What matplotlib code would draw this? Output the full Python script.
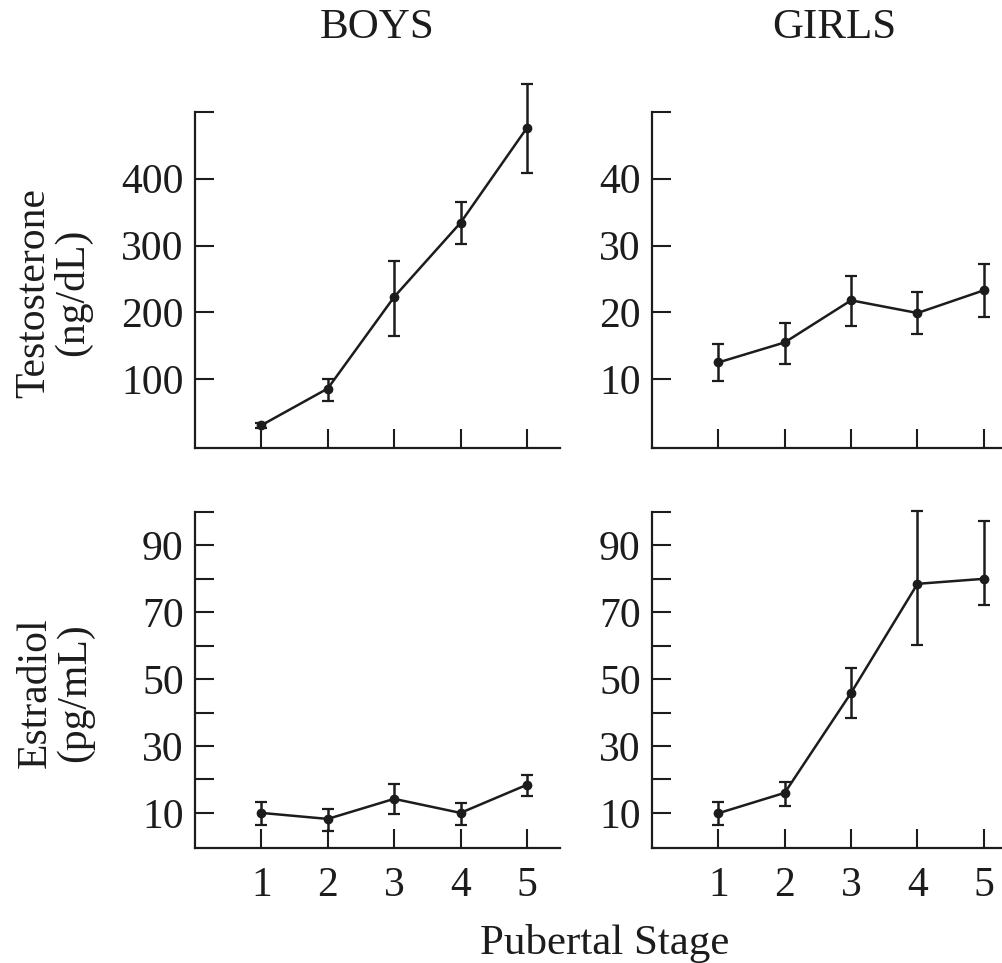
import numpy as np
import matplotlib
matplotlib.use("Agg")
from matplotlib import pyplot as plt

plt.rcParams["font.family"] = ["Liberation Serif", "DejaVu Serif"]

FS = 30
INK = "#1c1c1c"

stages = [1, 2, 3, 4, 5]

# testosterone (ng/dL)
boys_t = [31, 86, 223, 334, 476]
boys_t_hi = [35, 100, 277, 365, 542]
boys_t_lo = [27, 67, 165, 302, 409]
girls_t = [12.5, 15.5, 21.8, 19.9, 23.3]
girls_t_hi = [15.2, 18.4, 25.4, 23.0, 27.2]
girls_t_lo = [9.7, 12.3, 17.9, 16.8, 19.3]

# estradiol (pg/mL)
boys_e = [10.0, 8.2, 14.2, 10.0, 18.4]
boys_e_hi = [13.4, 11.2, 18.5, 12.9, 21.4]
boys_e_lo = [6.4, 4.7, 9.7, 6.4, 15.2]
girls_e = [9.9, 16.0, 45.9, 78.5, 80.0]
girls_e_hi = [13.2, 19.2, 53.4, 100.3, 97.3]
girls_e_lo = [6.4, 12.2, 38.4, 60.2, 72.3]

t_boys_ticks = [100, 200, 300, 400, 500]
t_girls_ticks = [10, 20, 30, 40, 50]
e_ticks = [10, 20, 30, 40, 50, 60, 70, 80, 90, 100]
e_labels = ["10", "", "30", "", "50", "", "70", "", "90", ""]

fig = plt.figure(figsize=(10.03, 9.63), dpi=100)

L1, L2, W = 0.1944, 0.650, 0.364
B_TOP, B_BOT, H = 0.5348, 0.1194, 0.3490


def panel(rect, y, hi, lo, ylim, yticks, ylabels, show_x):
    ax = fig.add_axes(rect)
    y = np.array(y)
    yerr = [y - np.array(lo), np.array(hi) - y]
    ax.errorbar(stages, y, yerr=yerr, color=INK, lw=1.8, elinewidth=1.8,
                capsize=4.5, capthick=1.6, marker="o", ms=6, zorder=3,
                clip_on=False)
    ax.set_xlim(0, 5.5)
    ax.set_ylim(*ylim)
    for s in ["top", "right"]:
        ax.spines[s].set_visible(False)
    for s in ["left", "bottom"]:
        ax.spines[s].set_linewidth(1.6)
        ax.spines[s].set_color(INK)
    ax.set_xticks(stages)
    ax.set_yticks(yticks)
    ax.set_yticklabels(ylabels)
    ax.tick_params(direction="in", length=14, width=1.5, colors=INK,
                   labelsize=FS)
    ax.tick_params(axis="y", pad=8)
    ax.tick_params(axis="x", pad=13)
    if not show_x:
        ax.set_xticklabels([])
    return ax


panel([L1, B_TOP, W, H], boys_t, boys_t_hi, boys_t_lo, (-3, 500),
      t_boys_ticks, ["100", "200", "300", "400", ""], False)
panel([L2, B_TOP, W, H], girls_t, girls_t_hi, girls_t_lo, (-0.3, 50),
      t_girls_ticks, ["10", "20", "30", "40", ""], False)
panel([L1, B_BOT, W, H], boys_e, boys_e_hi, boys_e_lo, (-0.5, 100),
      e_ticks, e_labels, True)
panel([L2, B_BOT, W, H], girls_e, girls_e_hi, girls_e_lo, (-0.5, 100),
      e_ticks, e_labels, True)

fig.text(L1 + W / 2, 0.971, "BOYS", ha="center", va="center",
         fontsize=31, color=INK)
fig.text(L2 + W / 2, 0.971, "GIRLS", ha="center", va="center",
         fontsize=31, color=INK)
fig.text(0.053, 0.696, "Testosterone\n(ng/dL)", rotation=90, ha="center",
         va="center", multialignment="center", fontsize=FS, color=INK,
         linespacing=1.0)
fig.text(0.055, 0.281, "Estradiol\n(pg/mL)", rotation=90, ha="center",
         va="center", multialignment="center", fontsize=FS, color=INK,
         linespacing=1.0)
fig.text(0.603, 0.009, "Pubertal Stage", ha="center", va="baseline",
         fontsize=31, color=INK)

fig.savefig("out.png", dpi=100)
